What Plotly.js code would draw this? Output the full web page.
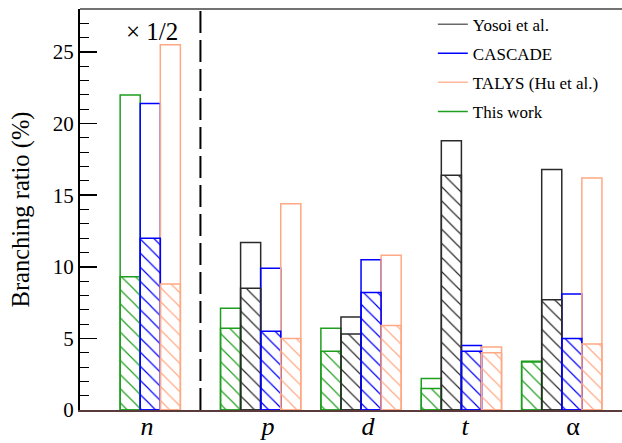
<!DOCTYPE html>
<html>
<head>
<meta charset="utf-8">
<script src="https://cdn.plot.ly/plotly-3.0.1.min.js"></script>
<style>html,body{margin:0;padding:0;background:#fff;}#chart{width:622px;height:443px;}</style>
</head>
<body>
<div id="chart"></div>
<script>
// Categories (particles)
var categories = ["n", "p", "d", "t", "α"];
var categoryLabels = ["<i>n</i>", "<i>p</i>", "<i>d</i>", "<i>t</i>", "α"];

// Series names
var seriesNames = ["This work", "Yosoi et al.", "CASCADE", "TALYS (Hu et al.)"];

// Total branching ratio (%) (open bars); n values shown x 1/2
var totalThisWork = [22.0, 7.1, 5.7, 2.2, 3.4];
var totalYosoi    = [null, 11.7, 6.5, 18.8, 16.8];
var totalCascade  = [21.4, 9.9, 10.5, 4.5, 8.1];
var totalTalys    = [25.5, 14.4, 10.8, 4.4, 16.2];

// Hatched part of each bar (%)
var hatchThisWork = [9.3, 5.7, 4.1, 1.5, 3.35];
var hatchYosoi    = [null, 8.5, 5.3, 16.4, 7.7];
var hatchCascade  = [12.0, 5.5, 8.2, 4.1, 5.0];
var hatchTalys    = [8.8, 5.0, 5.9, 4.0, 4.6];

// Legend order
var legendOrder = ["Yosoi et al.", "CASCADE", "TALYS (Hu et al.)", "This work"];

var colors = {
  "This work": "#1e9e1e",
  "Yosoi et al.": "#2a2a2a",
  "CASCADE": "#0000ff",
  "TALYS (Hu et al.)": "#ffa884"
};
var legendColors = {
  "This work": "#1e9e1e",
  "Yosoi et al.": "#6a6a6a",
  "CASCADE": "#0000ff",
  "TALYS (Hu et al.)": "#ffb89c"
};

var totals = [totalThisWork, totalYosoi, totalCascade, totalTalys];
var hatches = [hatchThisWork, hatchYosoi, hatchCascade, hatchTalys];

// layout of groups on a numeric axis: each bar one unit wide, groups 5 units apart
var groupStep = 5, firstGroup = 2;
function slotX(si, ci) {
  var slot = 0;
  for (var k = 0; k < si; k++) { if (totals[k][ci] !== null) slot++; }
  return firstGroup + groupStep * ci + slot + 0.5;
}

var traces = [];
// open (total) bars
for (var s = 0; s < seriesNames.length; s++) {
  var xs = [], ys = [];
  for (var c = 0; c < categories.length; c++) {
    if (totals[s][c] !== null) { xs.push(slotX(s, c)); ys.push(totals[s][c]); }
  }
  traces.push({
    type: "bar", x: xs, y: ys, width: 1, showlegend: false, hoverinfo: "skip",
    marker: {color: "rgba(255,255,255,0)", line: {color: colors[seriesNames[s]], width: 1.5}}
  });
}
// hatched bars
for (var s = 0; s < seriesNames.length; s++) {
  var xs = [], ys = [];
  for (var c = 0; c < categories.length; c++) {
    if (hatches[s][c] !== null) { xs.push(slotX(s, c)); ys.push(hatches[s][c]); }
  }
  traces.push({
    type: "bar", x: xs, y: ys, width: 1, showlegend: false, hoverinfo: "skip",
    marker: {
      color: "rgba(255,255,255,0)",
      line: {color: colors[seriesNames[s]], width: 1.5},
      pattern: {shape: "\\", fgcolor: colors[seriesNames[s]], fgopacity: 1,
                bgcolor: "rgba(255,255,255,0)", size: 10, solidity: 0.12, fillmode: "overlay"}
    }
  });
}
// legend entries (lines)
legendOrder.forEach(function (name, i) {
  traces.push({
    type: "scatter", mode: "lines", x: [null], y: [null], name: name,
    legendgroup: "g" + i, line: {color: legendColors[name], width: 1.5}
  });
});

// label positions under each group
var tickPos = [3.34, 9.37, 14.35, 19.18, 24.56];

var serif = "Liberation Serif";
var layout = {
  width: 622, height: 443,
  margin: {l: 80, r: 0, t: 9, b: 33},
  paper_bgcolor: "#fff", plot_bgcolor: "#fff",
  barmode: "overlay",
  font: {family: serif, color: "#000"},
  xaxis: {
    range: [0, 27], showgrid: false, zeroline: false,
    showline: true, linecolor: "#5a3a3a", linewidth: 2,
    tickmode: "array", tickvals: tickPos, ticktext: categoryLabels,
    ticks: "", tickfont: {size: 26, family: serif},
    ticklabelstandoff: -8
  },
  yaxis: {
    range: [0, 28], showgrid: false, zeroline: false,
    showline: true, linecolor: "#000", linewidth: 2,
    ticks: "inside", ticklen: 17, tickwidth: 1.5, tickcolor: "#000",
    tickvals: [0, 5, 10, 15, 20, 25],
    tickfont: {size: 21, family: serif},
    minor: {dtick: 1, ticks: "inside", ticklen: 9, tickwidth: 1, tickcolor: "#000"},
    title: {text: "Branching ratio (%)", font: {size: 24.5, family: serif}, standoff: 16}
  },
  showlegend: true,
  legend: {
    x: 0.651, y: 1.006, xanchor: "left", yanchor: "top",
    bgcolor: "rgba(0,0,0,0)", borderwidth: 0,
    font: {size: 17, family: serif},
    tracegroupgap: 4
  },
  shapes: [
    {type: "line", xref: "x", yref: "paper", x0: 6, x1: 6, y0: 0, y1: 1,
     line: {color: "#000", width: 2, dash: "22px,7px"}},
    {type: "line", xref: "paper", yref: "paper", x0: 0, x1: 1, y0: 1, y1: 1,
     line: {color: "#444", width: 1.5}}
  ],
  annotations: [
    {text: "× 1/2", xref: "x", yref: "paper", x: 3.6, y: 0.944, xanchor: "center", yanchor: "middle",
     showarrow: false, font: {size: 25, family: serif}}
  ]
};

Plotly.newPlot("chart", traces, layout, {displayModeBar: false, staticPlot: true});
</script>
</body>
</html>
